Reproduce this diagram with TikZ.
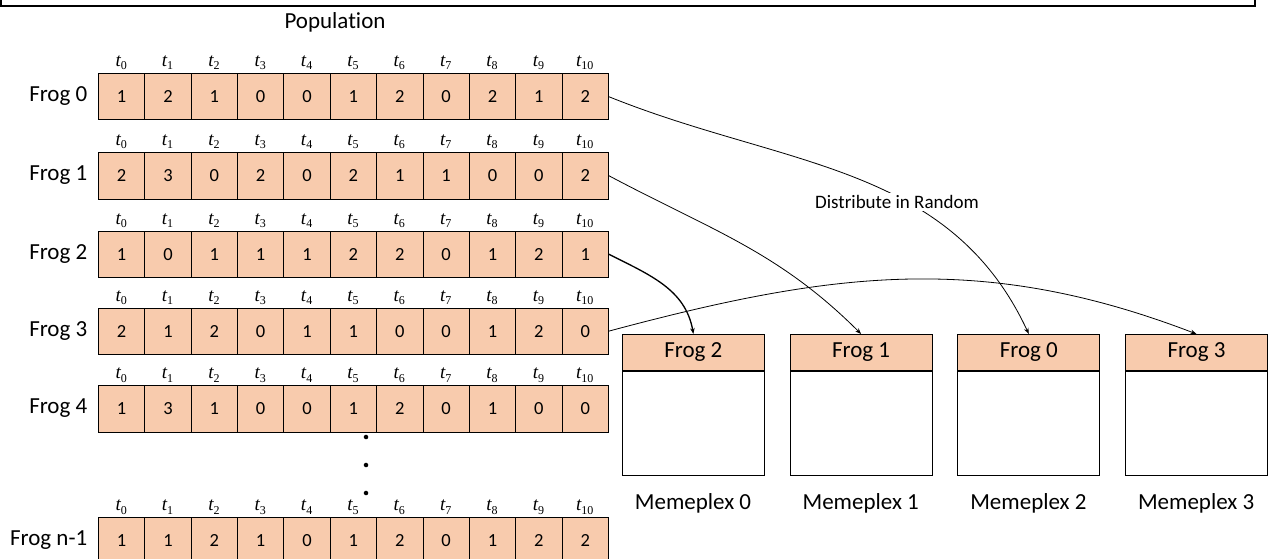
\documentclass[tikz,border=0pt]{standalone}
\usepackage{fontspec}
\setmainfont{Carlito}[Ligatures=NoCommon]
\newfontfamily\tfont{Liberation Serif}
\usetikzlibrary{arrows.meta}
\definecolor{peach}{HTML}{F8CBAD}
\newcommand{\tsub}[1]{{\tfont\fontsize{19}{19}\selectfont\itshape t}\raisebox{-3.5pt}{\tfont\fontsize{12}{12}\selectfont #1}}
\tikzset{
  cell/.style={draw, fill=peach, line width=0.8pt, minimum width=46.36pt, minimum height=46.5pt, inner sep=0pt, anchor=north west, font=\fontsize{18.5}{18.5}\selectfont},
  tlab/.style={anchor=base, inner sep=0pt},
  froglab/.style={anchor=east, inner sep=0pt, font=\fontsize{23}{23}\selectfont},
  title/.style={inner sep=0pt, font=\fontsize{23}{23}\selectfont},
  mhead/.style={draw, fill=peach, line width=0.8pt, minimum width=142pt, minimum height=36pt, inner sep=0pt, anchor=north west, font=\fontsize{23}{23}\selectfont},
  mbody/.style={draw, fill=white, line width=0.8pt, minimum width=142pt, minimum height=104pt, inner sep=0pt, anchor=north},
  mlab/.style={inner sep=0pt, font=\fontsize{23}{23}\selectfont},
  dot/.style={circle, fill, inner sep=1.6pt},
  arr/.style={-{Stealth[length=6pt, width=4.5pt]}, line width=0.8pt},
  distlab/.style={fill=white, inner sep=2pt, font=\fontsize{19}{19}\selectfont}
}
\begin{document}
\begin{tikzpicture}[x=1pt,y=-1pt]
\useasboundingbox (0,0) rectangle (1268,559);
\clip (0,0) rectangle (1268,559);
\draw[line width=2.8pt] (1,-10) -- (1,6) -- (1255,6) -- (1255,-10);
\node[title] (pop) at (335,22) {Population};
\foreach \row/\ytop/\lab/\vals in {
  0/73/Frog 0/{1,2,1,0,0,1,2,0,2,1,2},
  1/152/Frog 1/{2,3,0,2,0,2,1,1,0,0,2},
  2/230.5/Frog 2/{1,0,1,1,1,2,2,0,1,2,1},
  3/307.5/Frog 3/{2,1,2,0,1,1,0,0,1,2,0},
  4/385/Frog 4/{1,3,1,0,0,1,2,0,1,0,0},
  5/517/Frog n-1/{1,1,2,1,0,1,2,0,1,2,2}}{
  \node[froglab] (lab\row) at (87.5,\ytop+23.25) {\lab};
  \foreach \v [count=\i from 0] in \vals {
    \node[cell] (r\row c\i) at ({98+46.36*\i},\ytop) {\v};
    \node[tlab] (r\row t\i) at ({98+46.36*(\i+0.5)},\ytop-6.5) {\tsub{\i}};
  }
}
\foreach \y [count=\k] in {437,465,493}
  \node[dot] (dot\k) at (366,\y) {};
\foreach \m/\f in {0/2,1/1,2/0,3/3}{
  \node[mhead] (mh\m) at ({622+167.7*\m},334) {Frog \f};
  \node[mbody] (mb\m) at (mh\m.south) {};
  \node[mlab] (ml\m) at ({693+167.7*\m},503) {Memeplex \m};
}
\draw[arr] (r0c10.east) to[out=-22,in=115] (mh2.north);
\draw[arr] (r1c10.east) to[out=-28,in=135] (mh1.north);
\draw[arr, line width=1.3pt] (r2c10.east) to[out=-27,in=100] (mh0.north);
\draw[arr] (r3c10.east) to[out=15,in=159] (mh3.north);
\node[distlab] (dist) at (897,202) {Distribute in Random};
\end{tikzpicture}
\end{document}
